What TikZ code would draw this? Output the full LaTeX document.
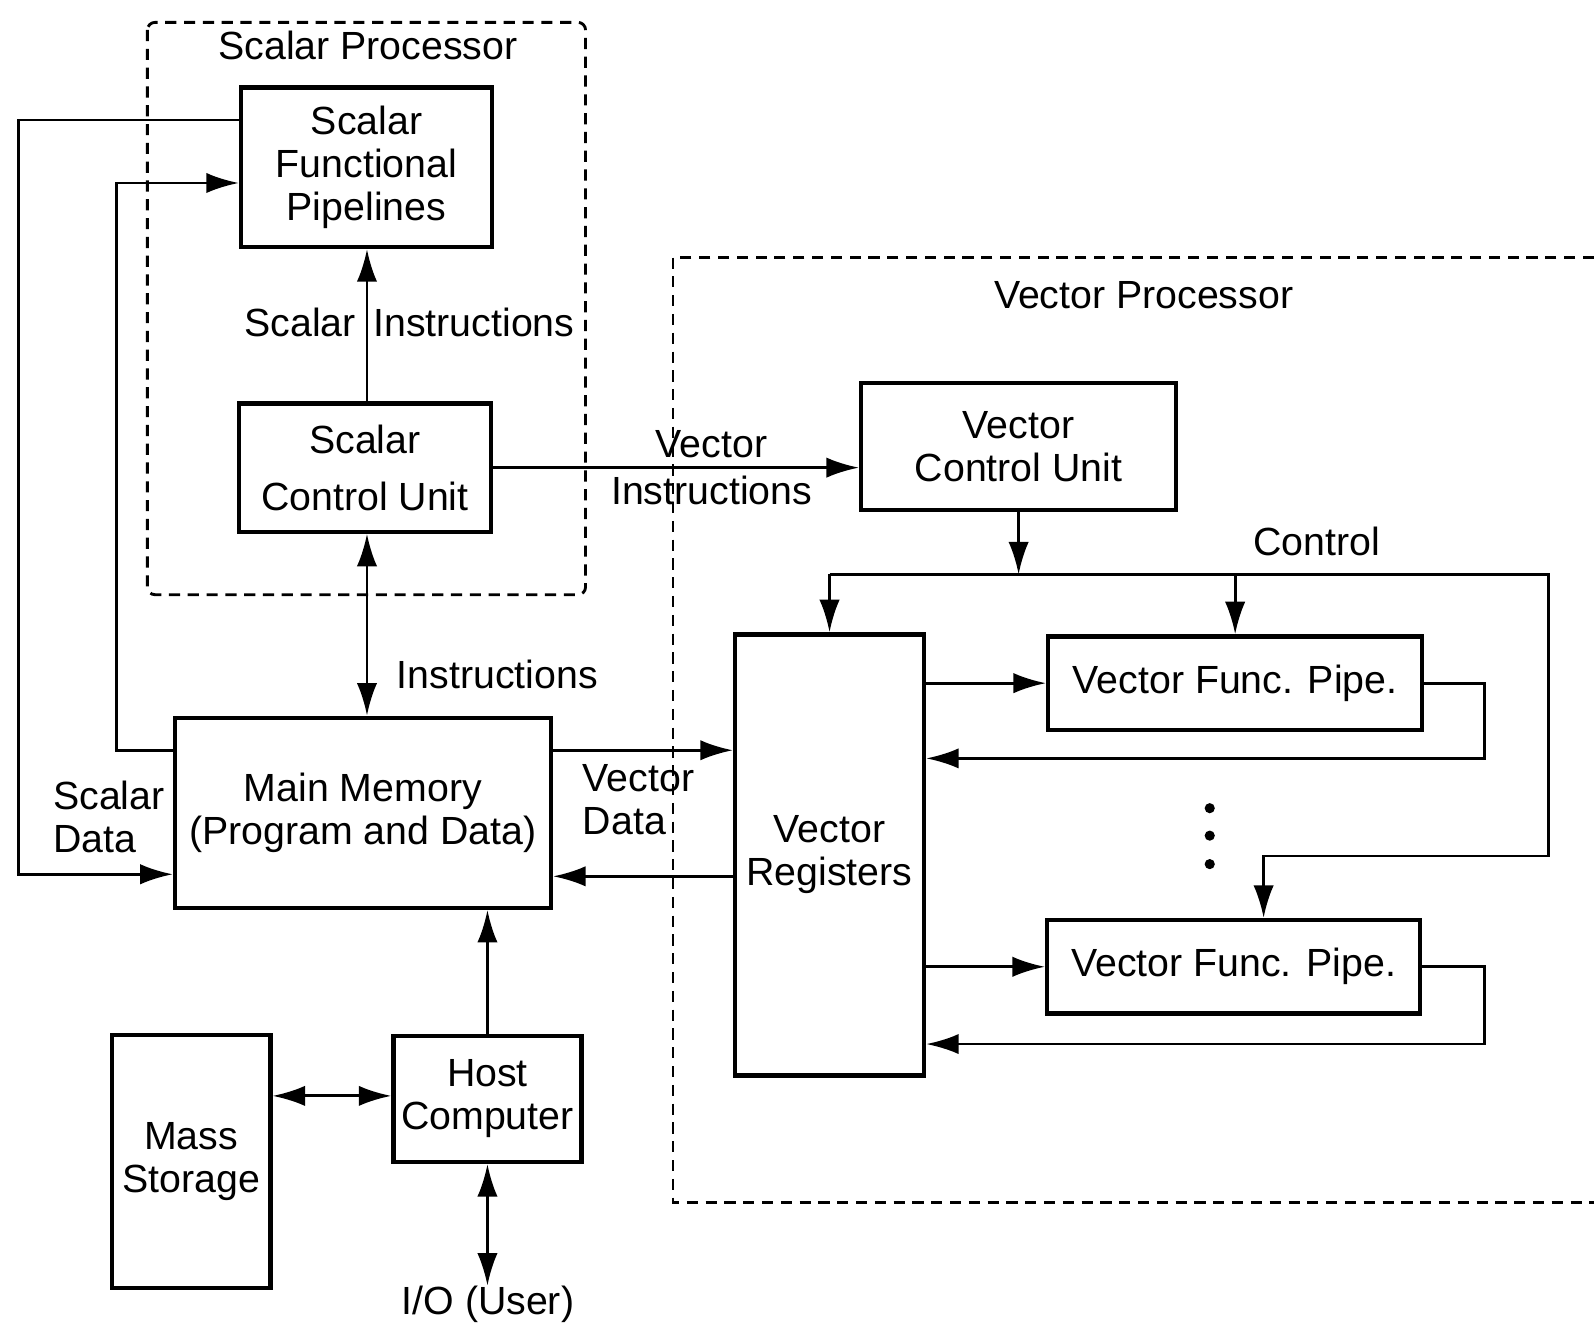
\documentclass[tikz,border=0pt]{standalone}
\usepackage{fontspec}
\setmainfont{Liberation Sans}
\usetikzlibrary{arrows.meta,calc}
\begin{document}
\begin{tikzpicture}[x=0.02cm,y=-0.02cm,
  font=\fontsize{22}{24}\selectfont,
  box/.style={draw,line width=2.4pt,inner sep=0pt,align=center},
  conn/.style={line width=1.6pt},
  tip/.tip={Latex[length=0.64cm,width=0.4cm]},
  arr/.style={conn,-tip},
  darr/.style={conn,tip-tip},
  dbox/.style={line width=1.6pt,dash pattern=on 0.22cm off 0.15cm},
  lbl/.style={inner sep=0pt,align=center},
  dot/.style={fill,circle,inner sep=0pt,minimum size=0.2cm}]
\useasboundingbox (0,0) rectangle (1568,1302);

% dashed groups
\draw[dbox,rounded corners=0.15cm] (145,22) rectangle (576,585);
\draw[dbox] (1568,253) -- (662,253) -- (662,1183) -- (1568,1183);
\node[lbl] (sptitle) at (362,45) {Scalar Processor};
\node[lbl] (vptitle) at (1125,290) {Vector Processor};

% boxes
\node[box,minimum width=4.94cm,minimum height=3.14cm] (sfp) at (360.5,164.5) {Scalar\\Functional\\Pipelines};
\node[box,minimum width=4.96cm,minimum height=2.52cm] (scu) at (359,460) {Scalar\\[8pt]Control Unit};
\node[box,minimum width=7.4cm,minimum height=3.74cm] (mm) at (357,799.5) {Main Memory\\(Program and Data)};
\node[box,minimum width=6.2cm,minimum height=2.5cm] (vcu) at (1002,439.5) {Vector\\Control Unit};
\node[box,minimum width=3.72cm,minimum height=8.68cm] (vr) at (816,841) {Vector\\Registers};
\node[box,minimum width=7.36cm,minimum height=1.84cm] (vfp1) at (1215,672) {Vector Func. Pipe.};
\node[box,minimum width=7.34cm,minimum height=1.84cm] (vfp2) at (1213.5,951) {Vector Func. Pipe.};
\node[box,minimum width=3.7cm,minimum height=2.48cm] (hc) at (479.5,1081) {Host\\Computer};
\node[box,minimum width=3.12cm,minimum height=4.98cm] (ms) at (188,1142.5) {Mass\\Storage};
\node[lbl] (io) at (480,1283) {I/O (User)};

% labels
\node[lbl,anchor=west] (silbl) at (240,317) {Scalar\hspace{0.35cm}Instructions};
\node[lbl] (vilbl) at (700,460) {Vector\\[2pt]Instructions};
\node[lbl,anchor=west] (inlbl) at (390,663) {Instructions};
\node[lbl,anchor=west,align=left] (sdlbl) at (52,804) {Scalar\\Data};
\node[lbl,anchor=west,align=left] (vdlbl) at (573,787) {Vector\\Data};
\node[lbl] (ctlbl) at (1295,533) {Control};

% dots
\node[dot] (d1) at (1190,795) {};
\node[dot] (d2) at (1190,822) {};
\node[dot] (d3) at (1190,850) {};

% scalar side connectors
\draw[arr] (sfp.west |- 0,118) -| (18,860) -- (mm.west |- 0,860);
\draw[arr] (mm.west |- 0,738) -| (115,180) -- (sfp.west |- 0,180);
\draw[arr] (scu.north -| 361,0) -- (sfp.south -| 361,0);
\draw[darr] (scu.south -| 361,0) -- (mm.north -| 361,0);
\draw[arr] (scu.east) -- (vcu.west |- scu.east);

% memory <-> vector registers
\draw[arr] (mm.east |- 0,738) -- (vr.west |- 0,738);
\draw[arr] (vr.west |- 0,862) -- (mm.east |- 0,862);

% control
\draw[arr] (vcu.south) -- (vcu.south |- 0,565);
\draw[arr] (vr.north |- 0,565) -- (vr.north);
\draw[arr] (vfp1.north |- 0,565) -- (vfp1.north);
\draw[arr] (vr.north |- 0,565) -- (1523,565) |- (1243,842) -- (vfp2.north -| 1243,0);

% pipes
\draw[arr] (vr.east |- vfp1.west) -- (vfp1.west);
\draw[arr] (vfp1.east) -| (1460,746) -- (vr.east |- 0,746);
\draw[arr] (vr.east |- vfp2.west) -- (vfp2.west);
\draw[arr] (vfp2.east) -| (1460,1027) -- (vr.east |- 0,1027);

% host
\draw[arr] (hc.north) -- (hc.north |- mm.south);
\draw[darr] (ms.east |- 0,1078) -- (hc.west |- 0,1078);
\draw[darr] (hc.south) -- (hc.south |- io.north);
\end{tikzpicture}
\end{document}
